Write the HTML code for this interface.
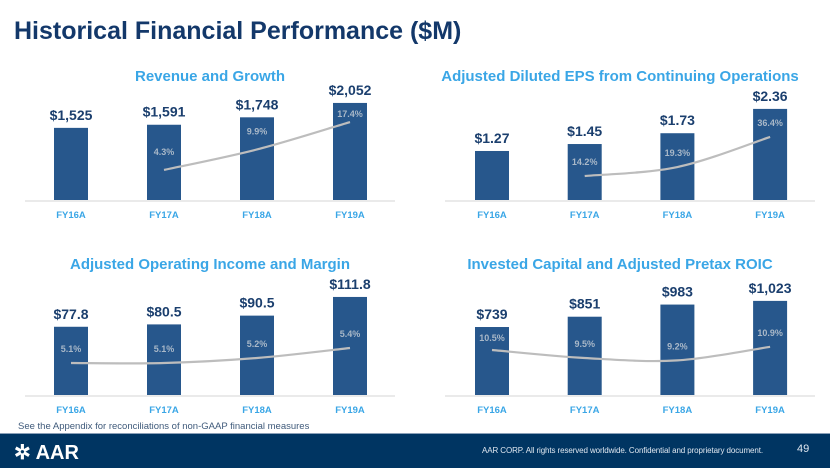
<!DOCTYPE html>
<html><head><meta charset="utf-8"><style>
body{margin:0;width:830px;height:467px;background:#fff;font-family:"Liberation Sans",sans-serif;overflow:hidden;position:relative}
#title{position:absolute;left:14px;top:17px;font-size:25px;font-weight:bold;color:#13386a;margin:0}
#note{position:absolute;left:18px;top:421px;font-size:9.5px;color:#3f5a7a}
#footer{position:absolute;left:0;top:433px;width:830px;height:34px;background:#003562;border-top:1px solid #8aa0b8}
#logo{position:absolute;left:14px;top:6px;color:#fff;font-weight:bold;font-size:20px}
#copy{position:absolute;left:482px;top:12px;color:#dfe7f0;font-size:8px;letter-spacing:-0.1px}
#pg{position:absolute;left:797px;top:9px;color:#dfe7f0;font-size:11px}
svg{position:absolute;left:0;top:0}
</style></head><body>
<h1 id="title">Historical Financial Performance ($M)</h1>
<svg id="chart" width="830" height="467"></svg>
<div id="note">See the Appendix for reconciliations of non-GAAP financial measures</div>
<div id="footer">
<div id="logo">✲ AAR</div>
<div id="copy">AAR CORP. All rights reserved worldwide. Confidential and proprietary document.</div>
<div id="pg">49</div>
</div>
<script>
const categories=["FY16A","FY17A","FY18A","FY19A"];
const revValues=[1525,1591,1748,2052];
const revLabels=["$1,525","$1,591","$1,748","$2,052"];
const revGrowth=[null,4.3,9.9,17.4];
const epsValues=[1.27,1.45,1.73,2.36];
const epsLabels=["$1.27","$1.45","$1.73","$2.36"];
const epsGrowth=[null,14.2,19.3,36.4];
const opiValues=[77.8,80.5,90.5,111.8];
const opiLabels=["$77.8","$80.5","$90.5","$111.8"];
const opiMargin=[5.1,5.1,5.2,5.4];
const icValues=[739,851,983,1023];
const icLabels=["$739","$851","$983","$1,023"];
const icRoic=[10.5,9.5,9.2,10.9];
const NS="http://www.w3.org/2000/svg";
const svg=document.getElementById('chart');
function mk(t,a,p){const e=document.createElementNS(NS,t);for(const k in a)e.setAttribute(k,a[k]);(p||svg).appendChild(e);return e;}
function drawChart(o){
  const g=mk('g',{});
  
  
  const t=mk('text',{x:o.cx,y:o.titleY,'text-anchor':'middle','font-size':15,'font-weight':'bold',fill:'#3aa6e6'},g);
  t.textContent=o.title;
  
  
  const ax=mk('line',{x1:o.x0,x2:o.x1,y1:o.base+1,y2:o.base+1,stroke:'#d6d6d6','stroke-width':1},g);
  
  
  const xs=i=>o.firstX+i*o.step;
  const yb=v=>o.base-v*o.scale;
  categories.forEach((c,i)=>{
    const h=o.values[i]*o.scale;
    const r=mk('rect',{x:xs(i)-17,y:yb(o.values[i]),width:34,height:h,fill:'#27578c'},g);
    
    
    const v=mk('text',{x:xs(i),y:yb(o.values[i])-8,'text-anchor':'middle','font-size':14,'font-weight':'bold',fill:'#1b3f6e'},g);
    v.textContent=o.labels[i];
    
    
    const l=mk('text',{x:xs(i),y:o.base+18,'text-anchor':'middle','font-size':9.5,'font-weight':'bold',fill:'#3aa6e6'},g);
    l.textContent=c;
    
    
  });
  const pts=[];
  o.line.forEach((v,i)=>{if(v!==null)pts.push([xs(i),o.ly(v),v,yb(o.values[i])]);});
  let d='M'+pts[0][0]+','+pts[0][1];
  for(let i=0;i<pts.length-1;i++){
    const p0=pts[Math.max(0,i-1)],p1=pts[i],p2=pts[i+1],p3=pts[Math.min(pts.length-1,i+2)];
    const c1x=p1[0]+(p2[0]-p0[0])/6,c1y=p1[1]+(p2[1]-p0[1])/6,c2x=p2[0]-(p3[0]-p1[0])/6,c2y=p2[1]-(p3[1]-p1[1])/6;
    d+=' C'+c1x+','+c1y+' '+c2x+','+c2y+' '+p2[0]+','+p2[1];
  }
  const ln=mk('path',{d:d,fill:'none',stroke:'#bdbdbd','stroke-width':2.2},g);
  
  
  pts.forEach(p=>{
    const ty=Math.max(p[1]-o.lOff,p[3]+14);
    const tx=mk('text',{x:p[0],y:ty,'text-anchor':'middle','font-size':9,'font-weight':'bold',fill:'#a9b8c8'},g);
    tx.textContent=p[2].toFixed(1)+'%';
    
    
  });
}
drawChart({name:'revenue-chart',title:'Revenue and Growth',cx:210,titleY:81,x0:25,x1:395,base:200,firstX:71,step:93,scale:0.0473,values:revValues,labels:revLabels,line:revGrowth,ly:v=>185.7-v*3.66,lOff:15});
drawChart({name:'eps-chart',title:'Adjusted Diluted EPS from Continuing Operations',cx:620,titleY:81,x0:445,x1:815,base:200,firstX:492,step:92.7,scale:38.6,values:epsValues,labels:epsLabels,line:epsGrowth,ly:v=>201-v*1.76,lOff:11});
drawChart({name:'operating-income-chart',title:'Adjusted Operating Income and Margin',cx:210,titleY:269,x0:25,x1:395,base:395,firstX:71,step:93,scale:0.877,values:opiValues,labels:opiLabels,line:opiMargin,ly:v=>363-(v-5.1)*50,lOff:11});
drawChart({name:'invested-capital-chart',title:'Invested Capital and Adjusted Pretax ROIC',cx:620,titleY:269,x0:445,x1:815,base:395,firstX:492,step:92.7,scale:0.0920,values:icValues,labels:icLabels,line:icRoic,ly:v=>350-(v-10.5)*8,lOff:11});
</script>
</body></html>
